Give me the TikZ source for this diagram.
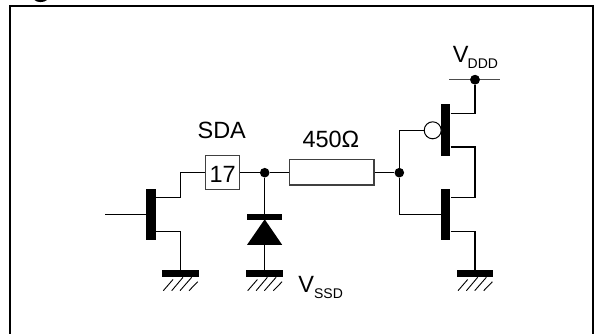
\documentclass[tikz,border=0pt]{standalone}
\usepackage{fontspec}
\setmainfont{Liberation Sans}
\newcommand{\bigtxt}{\fontsize{23.5}{26}\selectfont}
\newcommand{\subtxt}[1]{\raisebox{-6pt}{\fontsize{14}{16}\selectfont #1}}
\tikzset{
  wire/.style={line width=1.15pt,black},
  bar/.style={draw=none,fill=black,inner sep=0pt,minimum width=9.6pt,minimum height=51.6pt},
  dot/.style={circle,fill=black,draw=none,inner sep=0pt,minimum size=9.6pt},
  boxed/.style={draw=black!75,line width=1.2pt,fill=white,inner sep=0pt,rectangle},
  lbl/.style={anchor=base west,inner sep=0pt,font=\bigtxt},
  groundsym/.pic={
    \fill[black] (-18.4,-0.3) rectangle (18.4,6.2);
    \draw[line width=.9pt] (-17,20)--(-7.3,8.8) (-8.6,20)--(2.7,6.6) (-0.3,20)--(11.4,6.6) (8.7,20)--(17.4,11);
  }
}
\begin{document}
\begin{tikzpicture}[x=1pt,y=-1pt]
\useasboundingbox (0,0) rectangle (594,334);
% frame
\draw[line width=2pt] (10,334) -- (10,5.9) -- (593.5,5.9);
\draw[line width=1.2pt] (593,5.9) -- (593,334);
% clipped caption remnant
\fill[black] (34.5,0) .. controls (37,2.8) and (44,2.8) .. (47,0) -- cycle;
% grounds
\coordinate (g1) at (180.3,270.7);
\coordinate (g2) at (264.7,270.7);
\coordinate (g3) at (475,270.7);
\pic at (g1) {groundsym};
\pic at (g2) {groundsym};
\pic at (g3) {groundsym};
% bars
\node[bar] (t1) at (151,214.6) {};
\node[bar] (t2) at (445.5,130.2) {};
\node[bar] (t3) at (445.5,214.5) {};
% components
\node[boxed,minimum width=34pt,minimum height=33.6pt] (pin) at (222.7,172.5) {};
\node[boxed,minimum width=84.7pt,minimum height=25.3pt] (res) at (331.6,172.4) {};
\node[dot] (j1) at (264.7,172.7) {};
\node[dot] (j2) at (399.3,172.7) {};
\node[dot] (j3) at (475,79.7) {};
\node[circle,draw=black,line width=1pt,fill=white,inner sep=0pt,minimum size=17pt] (bub) at (432.7,130.3) {};
% free ends and bends
\coordinate (gatein) at (105,214.3);
\coordinate (vl) at (449.3,79.7);
\coordinate (vr) at (500,79.7);
% wires
\draw[wire] (gatein) -- (t1.west |- gatein);
\draw[wire] (t1.east |- 0,197.7) -| (180.3,172.7) -- (pin.west |- 0,172.7);
\draw[wire] (t1.east |- 0,231.3) -| (g1);
\draw[wire] (pin.east |- 0,172.7) -- (j1) -- (res.west |- 0,172.7);
\draw[wire] (res.east |- 0,172.7) -- (j2);
\draw[wire] (j2) |- (bub.west);
\draw[wire] (j2) |- (t3.west |- 0,214.7);
\draw[wire] (t2.east |- 0,113.3) -| (j3);
\draw[wire] (t2.east |- 0,147) -| (475,197.7) -- (t3.east |- 0,197.7);
\draw[wire] (t3.east |- 0,231.3) -| (g3);
\draw[line width=1.5pt,black!70] (vl) -- (j3) -- (vr);
\node[dot] at (j3) {};
% diode
\draw[wire] (j1) -- (g2);
\fill[black] (247,213.8) rectangle (282.2,219.5);
\fill[black] (264.7,219.3) -- (282.2,244.9) -- (247,244.9) -- cycle;
% labels
\node[lbl] (sda) at (197.4,139) {SDA};
\node[inner sep=0pt,anchor=base,font=\bigtxt] (n17) at (222.7,182.7) {17};
\node[lbl] (r) at (302.3,147.3) {450Ω};
\node[lbl] (vss) at (298.2,292.3) {V\subtxt{SSD}};
\node[lbl] (vdd) at (452.6,62.7) {V\kern-0.8pt\subtxt{DDD}};
\end{tikzpicture}
\end{document}
